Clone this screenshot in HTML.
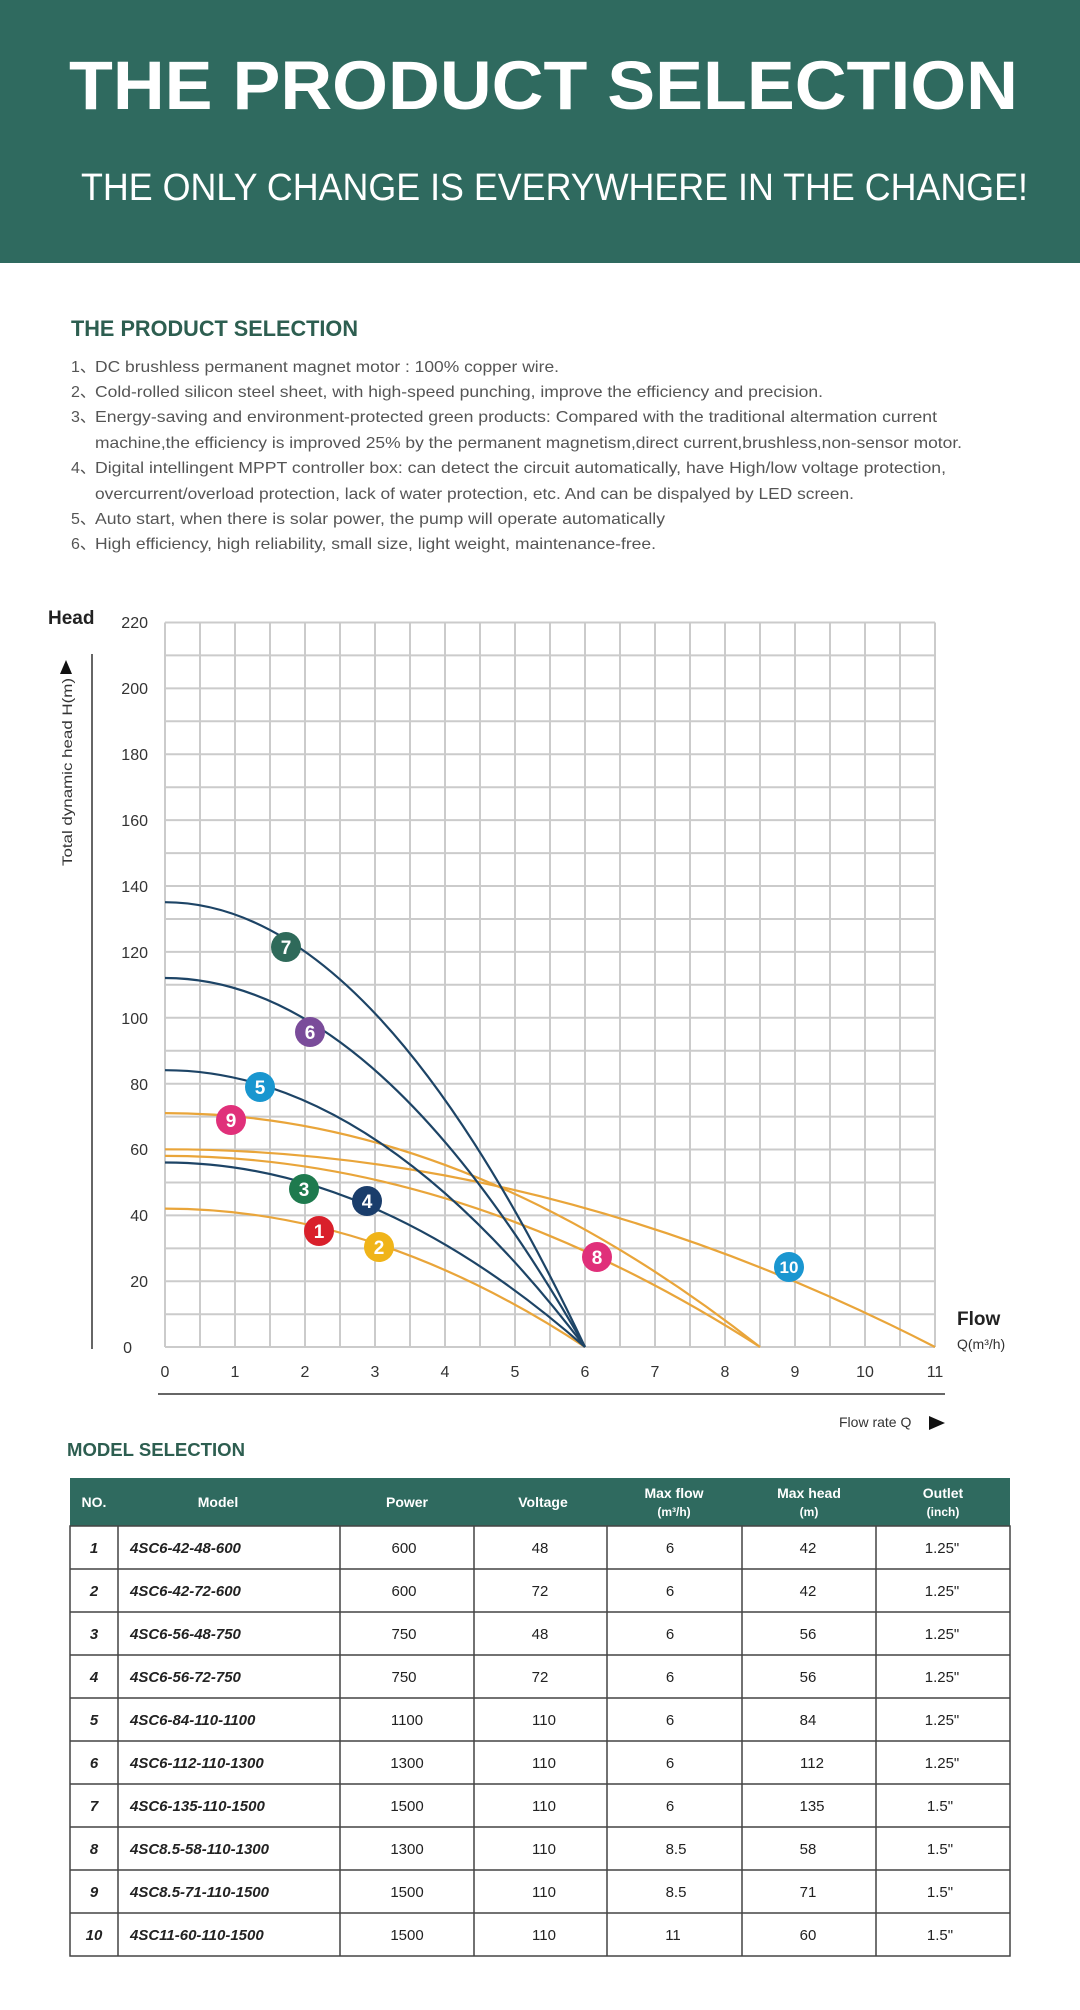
<!DOCTYPE html>
<html><head><meta charset="utf-8"><style>html,body{margin:0;padding:0;background:#fff}svg{display:block}</style></head>
<body>
<svg width="1080" height="2010" viewBox="0 0 1080 2010" xmlns="http://www.w3.org/2000/svg" font-family="Liberation Sans, sans-serif">
<rect x="0" y="0" width="1080" height="263" fill="#2f6a5f"/>
<text x="69" y="109" font-size="69" font-weight="bold" fill="#fff" textLength="949" lengthAdjust="spacingAndGlyphs">THE PRODUCT SELECTION</text>
<text x="81" y="200" font-size="38" fill="#fff" textLength="947" lengthAdjust="spacingAndGlyphs">THE ONLY CHANGE IS EVERYWHERE IN THE CHANGE!</text>
<text x="71" y="336" font-size="22" font-weight="bold" fill="#2d5e50" textLength="287" lengthAdjust="spacingAndGlyphs">THE PRODUCT SELECTION</text>
<g font-size="16" fill="#555">
<text x="71" y="372">1、</text><text x="95" y="372" textLength="464" lengthAdjust="spacingAndGlyphs">DC brushless permanent magnet motor : 100% copper wire.</text>
<text x="71" y="397">2、</text><text x="95" y="397" textLength="728" lengthAdjust="spacingAndGlyphs">Cold-rolled silicon steel sheet, with high-speed punching, improve the efficiency and precision.</text>
<text x="71" y="422">3、</text><text x="95" y="422" textLength="842" lengthAdjust="spacingAndGlyphs">Energy-saving and environment-protected green products: Compared with the traditional altermation current</text>
<text x="95" y="448" textLength="867" lengthAdjust="spacingAndGlyphs">machine,the efficiency is improved 25% by the permanent magnetism,direct current,brushless,non-sensor motor.</text>
<text x="71" y="473">4、</text><text x="95" y="473" textLength="851" lengthAdjust="spacingAndGlyphs">Digital intellingent MPPT controller box: can detect the circuit automatically, have High/low voltage protection,</text>
<text x="95" y="499" textLength="759" lengthAdjust="spacingAndGlyphs">overcurrent/overload protection, lack of water protection, etc. And can be dispalyed by LED screen.</text>
<text x="71" y="524">5、</text><text x="95" y="524" textLength="570" lengthAdjust="spacingAndGlyphs">Auto start, when there is solar power, the pump will operate automatically</text>
<text x="71" y="549">6、</text><text x="95" y="549" textLength="561" lengthAdjust="spacingAndGlyphs">High efficiency, high reliability, small size, light weight, maintenance-free.</text>
</g>
<!-- grid -->
<g stroke="#cbcbcb" stroke-width="2">
<path d="M165 622.5V1347M200 622.5V1347M235 622.5V1347M270 622.5V1347M305 622.5V1347M340 622.5V1347M375 622.5V1347M410 622.5V1347M445 622.5V1347M480 622.5V1347M515 622.5V1347M550 622.5V1347M585 622.5V1347M620 622.5V1347M655 622.5V1347M690 622.5V1347M725 622.5V1347M760 622.5V1347M795 622.5V1347M830 622.5V1347M865 622.5V1347M900 622.5V1347M935 622.5V1347"/>
<path d="M165 622.5H935M165 655.4H935M165 688.4H935M165 721.3H935M165 754.3H935M165 787.2H935M165 820.1H935M165 853.1H935M165 886H935M165 919H935M165 951.9H935M165 984.8H935M165 1017.8H935M165 1050.7H935M165 1083.7H935M165 1116.6H935M165 1149.5H935M165 1182.5H935M165 1215.4H935M165 1248.4H935M165 1281.3H935M165 1314.2H935M165 1347H935"/>
</g>
<line x1="92" y1="654" x2="92" y2="1349" stroke="#333" stroke-width="1.5"/>
<line x1="158" y1="1394" x2="945" y2="1394" stroke="#333" stroke-width="1.5"/>
<text x="48" y="624" font-size="19" font-weight="bold" fill="#222">Head</text>
<g font-size="16" fill="#333" text-anchor="end">
<text x="148" y="628">220</text><text x="148" y="694">200</text><text x="148" y="760">180</text><text x="148" y="826">160</text><text x="148" y="892">140</text><text x="148" y="958">120</text><text x="148" y="1024">100</text><text x="148" y="1090">80</text><text x="148" y="1155">60</text><text x="148" y="1221">40</text><text x="148" y="1287">20</text><text x="132" y="1353">0</text>
</g>
<g font-size="16" fill="#333" text-anchor="middle">
<text x="165" y="1377">0</text><text x="235" y="1377">1</text><text x="305" y="1377">2</text><text x="375" y="1377">3</text><text x="445" y="1377">4</text><text x="515" y="1377">5</text><text x="585" y="1377">6</text><text x="655" y="1377">7</text><text x="725" y="1377">8</text><text x="795" y="1377">9</text><text x="865" y="1377">10</text><text x="935" y="1377">11</text>
</g>
<text transform="translate(72,866) rotate(-90)" font-size="14" fill="#333" textLength="188" lengthAdjust="spacingAndGlyphs">Total dynamic head H(m)</text>
<path d="M60 674 L72 674 L66 660 Z" fill="#111"/>
<text x="957" y="1325" font-size="19" font-weight="bold" fill="#222">Flow</text>
<text x="957" y="1349" font-size="14" fill="#333">Q(m³/h)</text>
<text x="839" y="1427" font-size="14" fill="#333">Flow rate Q</text>
<path d="M929 1416 L929 1430 L945 1423 Z" fill="#111"/>
<!-- curves -->
<g fill="none" stroke-width="2.2">
<g stroke="#e9a53a">
<path d="M165 1208.6 Q375 1208.6 585 1347"/>
<path d="M165 1155.9 Q462.5 1155.9 760 1347"/>
<path d="M165 1113.1 Q462.5 1113.1 760 1347"/>
<path d="M165 1149.3 Q550 1149.3 935 1347"/>
</g>
<g stroke="#1d4466">
<path d="M165 902.2 Q375 902.2 585 1347"/>
<path d="M165 978 Q375 978 585 1347"/>
<path d="M165 1070.2 Q375 1070.2 585 1347"/>
<path d="M165 1162.5 Q375 1162.5 585 1347"/>
</g>
</g>
<g font-size="19" font-weight="bold" fill="#fff" text-anchor="middle">
<circle cx="286" cy="947" r="15" fill="#2f6a5a"/><text x="286" y="954">7</text>
<circle cx="310" cy="1032" r="15" fill="#7a4c9a"/><text x="310" y="1039">6</text>
<circle cx="260" cy="1087" r="15" fill="#1996cf"/><text x="260" y="1094">5</text>
<circle cx="231" cy="1120" r="15" fill="#e0307a"/><text x="231" y="1127">9</text>
<circle cx="304" cy="1189" r="15" fill="#1e7a4e"/><text x="304" y="1196">3</text>
<circle cx="367" cy="1201" r="15" fill="#1a3d6b"/><text x="367" y="1208">4</text>
<circle cx="319" cy="1231" r="15" fill="#d9202b"/><text x="319" y="1238">1</text>
<circle cx="379" cy="1247" r="15" fill="#f0b419"/><text x="379" y="1254">2</text>
<circle cx="597" cy="1257" r="15" fill="#e0307a"/><text x="597" y="1264">8</text>
<circle cx="789" cy="1267" r="15" fill="#1a96d0"/><text x="789" y="1273" font-size="17">10</text>
</g>
<!-- table -->
<text x="67" y="1456" font-size="18" font-weight="bold" fill="#2d5e50" textLength="178" lengthAdjust="spacingAndGlyphs">MODEL SELECTION</text>
<rect x="70" y="1478" width="940" height="48" fill="#2f6a5f"/>
<g font-size="14" font-weight="bold" fill="#fff" text-anchor="middle">
<text x="94" y="1507">NO.</text><text x="218" y="1507">Model</text><text x="407" y="1507">Power</text><text x="543" y="1507">Voltage</text>
<text x="674" y="1498">Max flow</text><text x="674" y="1516" font-size="12">(m³/h)</text>
<text x="809" y="1498">Max head</text><text x="809" y="1516" font-size="12">(m)</text>
<text x="943" y="1498">Outlet</text><text x="943" y="1516" font-size="12">(inch)</text>
</g>
<g stroke="#444" stroke-width="1.5" fill="none">
<rect x="70" y="1526" width="940" height="430"/>
<path d="M70 1569H1010M70 1612H1010M70 1655H1010M70 1698H1010M70 1741H1010M70 1784H1010M70 1827H1010M70 1870H1010M70 1913H1010"/>
<path d="M118 1526V1956M340 1526V1956M474 1526V1956M607 1526V1956M742 1526V1956M876 1526V1956"/>
</g>
<g font-size="15" fill="#222">
<g font-weight="bold" font-style="italic">
<text x="94" y="1553" text-anchor="middle">1</text><text x="130" y="1553">4SC6-42-48-600</text>
<text x="94" y="1596" text-anchor="middle">2</text><text x="130" y="1596">4SC6-42-72-600</text>
<text x="94" y="1639" text-anchor="middle">3</text><text x="130" y="1639">4SC6-56-48-750</text>
<text x="94" y="1682" text-anchor="middle">4</text><text x="130" y="1682">4SC6-56-72-750</text>
<text x="94" y="1725" text-anchor="middle">5</text><text x="130" y="1725">4SC6-84-110-1100</text>
<text x="94" y="1768" text-anchor="middle">6</text><text x="130" y="1768">4SC6-112-110-1300</text>
<text x="94" y="1811" text-anchor="middle">7</text><text x="130" y="1811">4SC6-135-110-1500</text>
<text x="94" y="1854" text-anchor="middle">8</text><text x="130" y="1854">4SC8.5-58-110-1300</text>
<text x="94" y="1897" text-anchor="middle">9</text><text x="130" y="1897">4SC8.5-71-110-1500</text>
<text x="94" y="1940" text-anchor="middle">10</text><text x="130" y="1940">4SC11-60-110-1500</text>
</g>
<g text-anchor="middle">
<text x="404" y="1553">600</text><text x="540" y="1553">48</text><text x="670" y="1553">6</text><text x="808" y="1553">42</text><text x="942" y="1553">1.25"</text>
<text x="404" y="1596">600</text><text x="540" y="1596">72</text><text x="670" y="1596">6</text><text x="808" y="1596">42</text><text x="942" y="1596">1.25"</text>
<text x="404" y="1639">750</text><text x="540" y="1639">48</text><text x="670" y="1639">6</text><text x="808" y="1639">56</text><text x="942" y="1639">1.25"</text>
<text x="404" y="1682">750</text><text x="540" y="1682">72</text><text x="670" y="1682">6</text><text x="808" y="1682">56</text><text x="942" y="1682">1.25"</text>
<text x="407" y="1725">1100</text><text x="544" y="1725">110</text><text x="670" y="1725">6</text><text x="808" y="1725">84</text><text x="942" y="1725">1.25"</text>
<text x="407" y="1768">1300</text><text x="544" y="1768">110</text><text x="670" y="1768">6</text><text x="812" y="1768">112</text><text x="942" y="1768">1.25"</text>
<text x="407" y="1811">1500</text><text x="544" y="1811">110</text><text x="670" y="1811">6</text><text x="812" y="1811">135</text><text x="940" y="1811">1.5"</text>
<text x="407" y="1854">1300</text><text x="544" y="1854">110</text><text x="676" y="1854">8.5</text><text x="808" y="1854">58</text><text x="940" y="1854">1.5"</text>
<text x="407" y="1897">1500</text><text x="544" y="1897">110</text><text x="676" y="1897">8.5</text><text x="808" y="1897">71</text><text x="940" y="1897">1.5"</text>
<text x="407" y="1940">1500</text><text x="544" y="1940">110</text><text x="673" y="1940">11</text><text x="808" y="1940">60</text><text x="940" y="1940">1.5"</text>
</g>
</g>
</svg>
</body></html>
